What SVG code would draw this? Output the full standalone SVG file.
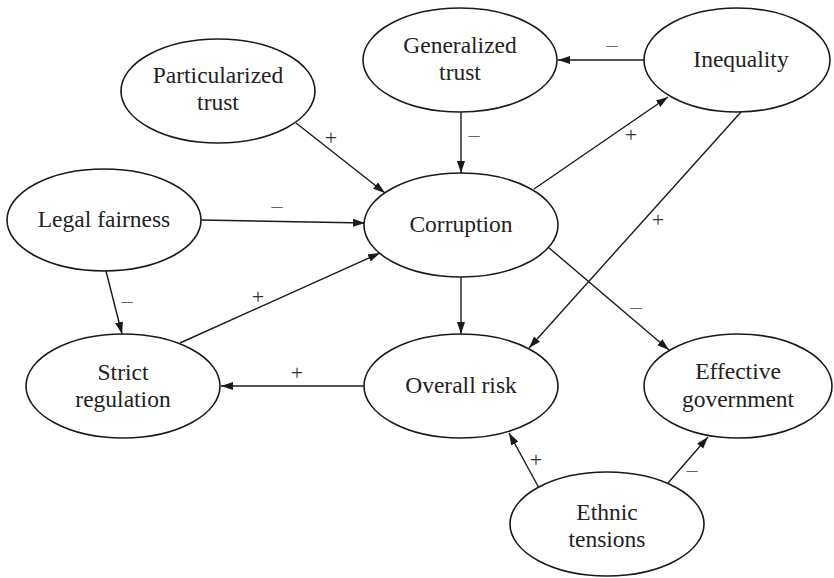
<svg xmlns="http://www.w3.org/2000/svg" width="834" height="578" viewBox="0 0 834 578">
  <style>
    .node ellipse { fill: #ffffff; stroke: #1a1a1a; stroke-width: 1.6; }
    .node text { font-family: 'Liberation Serif', 'Times New Roman', serif; font-size: 23.5px; fill: #222222; text-anchor: middle; }
    .edge line { stroke: #1a1a1a; stroke-width: 1.4; marker-end: url(#arrow); }
    .sign { font-family: 'Liberation Serif', 'Times New Roman', serif; font-size: 22px; fill: #333333; text-anchor: middle; }
    .minus { fill: #666666; }
  </style>
  <defs>
    <marker id="arrow" markerUnits="userSpaceOnUse" markerWidth="13" markerHeight="9" refX="12" refY="4" orient="auto">
      <path d="M0,0 L12,4 L0,8 z" fill="#1a1a1a"/>
    </marker>
  </defs>
  <rect width="834" height="578" fill="#ffffff"/>

  <!-- connectors -->
  <g id="connectors" class="edge">
    <line x1="644" y1="60" x2="558" y2="60"/>
    <line x1="461" y1="112" x2="461" y2="173"/>
    <line x1="296" y1="123" x2="385" y2="193"/>
    <line x1="201" y1="220" x2="365" y2="223"/>
    <line x1="534" y1="189" x2="668" y2="97"/>
    <line x1="741" y1="112" x2="529" y2="348"/>
    <line x1="461" y1="277" x2="461" y2="334"/>
    <line x1="548" y1="247" x2="669" y2="350"/>
    <line x1="106" y1="271" x2="122" y2="334"/>
    <line x1="180" y1="343" x2="380" y2="253"/>
    <line x1="364" y1="386" x2="221" y2="386"/>
    <line x1="539" y1="488" x2="509" y2="433"/>
    <line x1="668" y1="483" x2="708" y2="437"/>
  </g>

  <!-- edge signs -->
  <g id="signs">
    <text class="sign minus" x="612" y="52">–</text>
    <text class="sign minus" x="474" y="142">–</text>
    <text class="sign" x="331" y="145">+</text>
    <text class="sign minus" x="277" y="213">–</text>
    <text class="sign" x="631" y="142">+</text>
    <text class="sign" x="658" y="227">+</text>
    <text class="sign minus" x="636" y="314">–</text>
    <text class="sign minus" x="127" y="308">–</text>
    <text class="sign" x="258" y="304">+</text>
    <text class="sign" x="297" y="380">+</text>
    <text class="sign" x="536" y="467">+</text>
    <text class="sign minus" x="692" y="477">–</text>
  </g>

  <!-- nodes -->
  <g id="generalized-trust" class="node">
    <ellipse cx="460" cy="60" rx="97" ry="52"/>
    <text x="460" y="53">Generalized</text>
    <text x="460" y="80">trust</text>
  </g>
  <g id="inequality" class="node">
    <ellipse cx="737" cy="60" rx="93" ry="52"/>
    <text x="741" y="67">Inequality</text>
  </g>
  <g id="particularized-trust" class="node">
    <ellipse cx="218" cy="91" rx="97" ry="52"/>
    <text x="218" y="83">Particularized</text>
    <text x="218" y="110">trust</text>
  </g>
  <g id="legal-fairness" class="node">
    <ellipse cx="104" cy="220" rx="97" ry="51"/>
    <text x="104" y="227">Legal fairness</text>
  </g>
  <g id="corruption" class="node">
    <ellipse cx="461" cy="225" rx="97" ry="52"/>
    <text x="461" y="232">Corruption</text>
  </g>
  <g id="strict-regulation" class="node">
    <ellipse cx="123" cy="386" rx="97" ry="52"/>
    <text x="123" y="380">Strict</text>
    <text x="123" y="407">regulation</text>
  </g>
  <g id="overall-risk" class="node">
    <ellipse cx="461" cy="386" rx="97" ry="52"/>
    <text x="461" y="393">Overall risk</text>
  </g>
  <g id="effective-government" class="node">
    <ellipse cx="738" cy="386" rx="94" ry="52"/>
    <text x="738" y="379">Effective</text>
    <text x="738" y="407">government</text>
  </g>
  <g id="ethnic-tensions" class="node">
    <ellipse cx="607" cy="524" rx="97" ry="52"/>
    <text x="607" y="520">Ethnic</text>
    <text x="607" y="547">tensions</text>
  </g>
</svg>
